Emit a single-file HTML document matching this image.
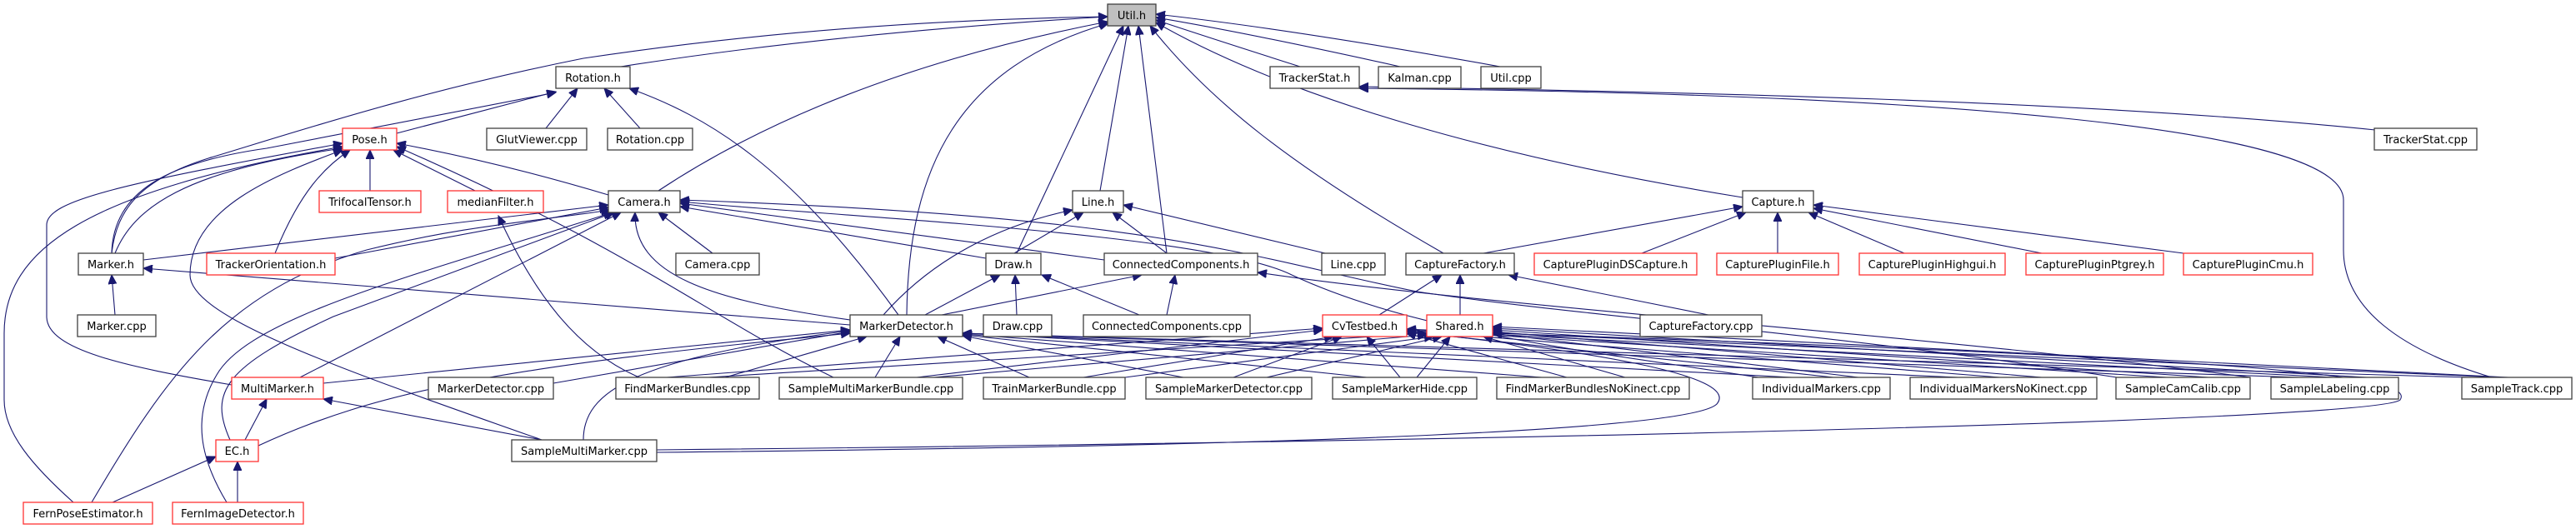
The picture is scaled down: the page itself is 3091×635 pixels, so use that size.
<!DOCTYPE html>
<html><head><meta charset="utf-8"><style>
html,body{margin:0;padding:0;background:#fff;}
svg{display:block;}
text{font-family:"DejaVu Sans","Liberation Sans",sans-serif;font-size:13px;fill:#000;text-anchor:middle;}
.e{fill:none;stroke:#191970;stroke-width:1.1;marker-end:url(#a);}
.n{fill:#fff;stroke:#404040;stroke-width:1.3;}
.r{fill:#fff;stroke:#ff3333;stroke-width:1.3;}
.g{fill:#bfbfbf;stroke:#404040;stroke-width:1.3;}
</style></head><body>
<svg width="3091" height="635" viewBox="0 0 3091 635" xmlns="http://www.w3.org/2000/svg">
<defs><marker id="a" markerUnits="userSpaceOnUse" markerWidth="12" markerHeight="10" refX="11" refY="5" orient="auto"><path d="M0,0 L11,5 L0,10 z" fill="#191970" stroke="#191970"/></marker></defs>
<g>
<!-- Util -->
<path class="e" d="M745,80 Q1000,40 1329,20"/>
<path class="e" d="M1560,80 Q1450,45 1387,24"/>
<path class="e" d="M1680,80 Q1500,40 1387,21"/>
<path class="e" d="M1800,80 Q1550,35 1387,17"/>
<path class="e" d="M790,229 Q1000,90 1329,26"/>
<path class="e" d="M1088,378 C1090,200 1150,80 1330,28"/>
<path class="e" d="M1220,304 L1348,31"/>
<path class="e" d="M1320,229 L1354,31"/>
<path class="e" d="M1400,304 L1366,31"/>
<path class="e" d="M1732,304 C1550,200 1450,120 1380,31"/>
<path class="e" d="M2091,237 C1800,190 1550,120 1387,27"/>
<path class="e" d="M134,304 C140,250 170,215 250,190 C350,160 500,110 700,70 Q1000,25 1329,20"/>
<!-- Rotation -->
<path class="e" d="M476,160 L667,110"/>
<path class="e" d="M655,154 L693,106"/>
<path class="e" d="M768,154 L725,106"/>
<path class="e" d="M1078,378 C950,200 850,140 755,106"/>
<path class="e" d="M134,304 C136,230 200,195 320,178 L667,111"/>
<!-- Pose -->
<path class="e" d="M444,229 L444,180"/>
<path class="e" d="M570,229 L472,180"/>
<path class="e" d="M730,234 Q600,195 476,172"/>
<path class="e" d="M330,304 C360,230 390,200 420,180"/>
<path class="e" d="M138,304 C160,250 220,205 411,178"/>
<path class="e" d="M278,462 C150,440 56,420 56,380 L56,270 C56,240 150,220 411,172"/>
<path class="e" d="M88,603 C40,560 5,520 5,480 L5,400 C5,300 100,230 411,176"/>
<path class="e" d="M650,528 C400,440 228,380 228,330 C228,250 330,210 411,180"/>
<path class="e" d="M1000,453 C850,380 760,300 476,176"/>
<!-- Camera -->
<path class="e" d="M172,312 L730,246"/>
<path class="e" d="M402,310 L730,249"/>
<path class="e" d="M855,304 L790,255"/>
<path class="e" d="M1183,310 L816,248"/>
<path class="e" d="M1020,384 C850,360 760,330 762,255"/>
<path class="e" d="M360,453 L745,255"/>
<path class="e" d="M276,528 C250,470 270,440 400,380 L737,255"/>
<path class="e" d="M110,603 C200,450 270,350 440,300 C560,270 650,265 732,252"/>
<path class="e" d="M272,603 C240,550 230,500 260,450 C300,380 500,330 735,255"/>
<path class="e" d="M1325,312 L816,244"/>
<path class="e" d="M2110,453 C1900,420 1700,400 1550,330 C1450,280 1000,260 816,242"/>
<path class="e" d="M2540,453 C2200,400 1900,380 1700,350 C1500,310 1400,260 816,240"/>
<!-- MarkerDetector -->
<path class="e" d="M1020,390 L172,322"/>
<path class="e" d="M1060,378 C1120,310 1200,270 1287,252"/>
<path class="e" d="M1110,378 L1200,330"/>
<path class="e" d="M1130,378 L1370,330"/>
<path class="e" d="M388,460 L1020,396"/>
<path class="e" d="M664,460 L1020,398"/>
<path class="e" d="M870,453 L1040,404"/>
<path class="e" d="M1050,453 L1080,404"/>
<path class="e" d="M1235,453 L1125,404"/>
<path class="e" d="M1420,453 L1155,403"/>
<path class="e" d="M1640,453 L1155,402"/>
<path class="e" d="M1850,453 L1155,401"/>
<path class="e" d="M2150,453 L1155,400"/>
<path class="e" d="M2350,453 L1155,400"/>
<path class="e" d="M2760,453 L1155,400"/>
<path class="e" d="M2960,453 L1155,400"/>
<path class="e" d="M310,535 C450,470 600,440 1020,400"/>
<path class="e" d="M700,528 C700,470 760,430 1020,397"/>
<!-- CaptureFactory -->
<path class="e" d="M1655,378 L1730,330"/>
<path class="e" d="M1752,378 L1752,330"/>
<path class="e" d="M2050,378 L1810,330"/>
<!-- CvTestbed -->
<path class="e" d="M800,453 L1587,394"/>
<path class="e" d="M1100,453 L1587,396"/>
<path class="e" d="M1300,453 L1600,404"/>
<path class="e" d="M1480,453 L1610,404"/>
<path class="e" d="M1680,453 L1640,404"/>
<path class="e" d="M1880,453 L1688,400"/>
<path class="e" d="M2200,453 L1688,398"/>
<path class="e" d="M2400,453 L1688,397"/>
<path class="e" d="M2600,453 L1688,396"/>
<path class="e" d="M2800,453 L1688,396"/>
<path class="e" d="M3000,453 L1688,395"/>
<!-- Shared -->
<path class="e" d="M850,453 L1712,400"/>
<path class="e" d="M1120,453 L1712,402"/>
<path class="e" d="M1350,453 L1720,404"/>
<path class="e" d="M1520,453 L1730,404"/>
<path class="e" d="M1700,453 L1740,404"/>
<path class="e" d="M1950,453 L1780,404"/>
<path class="e" d="M2230,453 L1791,400"/>
<path class="e" d="M2450,453 L1791,398"/>
<path class="e" d="M2650,453 L1791,396"/>
<path class="e" d="M2840,453 L1791,394"/>
<path class="e" d="M3010,453 L1791,392"/>
<path class="e" d="M788,543 C1600,535 2030,515 2060,485 C2090,450 1900,420 1688,398"/>
<path class="e" d="M788,540 C1800,530 2850,505 2880,480 C2900,450 2700,430 1791,400"/>
<!-- Capture -->
<path class="e" d="M1780,304 L2091,248"/>
<path class="e" d="M1970,304 L2095,255"/>
<path class="e" d="M2133,304 L2133,255"/>
<path class="e" d="M2285,304 L2170,255"/>
<path class="e" d="M2450,304 L2176,250"/>
<path class="e" d="M2620,304 L2176,246"/>
<!-- TrackerStat -->
<path class="e" d="M2850,156 C2500,120 2000,110 1631,104"/>
<path class="e" d="M2990,453 C2880,420 2812,370 2812,300 L2812,240 C2812,150 2300,112 1631,106"/>
<!-- Line / Draw / CC -->
<path class="e" d="M1590,304 Q1450,270 1348,246"/>
<path class="e" d="M1217,304 L1300,255"/>
<path class="e" d="M1400,304 L1335,255"/>
<path class="e" d="M1220,378 L1218,330"/>
<path class="e" d="M1367,378 L1250,330"/>
<path class="e" d="M1400,378 L1410,330"/>
<path class="e" d="M2700,453 C2300,400 1800,370 1509,327"/>
<path class="e" d="M767,453 C690,420 640,350 598,259"/>
<path class="e" d="M294,528 L320,479"/>
<path class="e" d="M650,528 L388,479"/>
<path class="e" d="M135,603 L259,548"/>
<path class="e" d="M285,603 L285,554"/>
<path class="e" d="M138,378 L134,330"/>
</g>
<g>
<rect class="g" x="1329" y="5" width="58" height="26"/><text x="1358" y="23">Util.h</text>
<rect class="n" x="667" y="80" width="89" height="26"/><text x="711.5" y="98">Rotation.h</text>
<rect class="n" x="1524" y="80" width="107" height="26"/><text x="1577.5" y="98">TrackerStat.h</text>
<rect class="n" x="1654" y="80" width="99" height="26"/><text x="1703.5" y="98">Kalman.cpp</text>
<rect class="n" x="1777" y="80" width="72" height="26"/><text x="1813" y="98">Util.cpp</text>
<rect class="r" x="411" y="154" width="65" height="26"/><text x="443.5" y="172">Pose.h</text>
<rect class="n" x="584" y="154" width="120" height="26"/><text x="644" y="172">GlutViewer.cpp</text>
<rect class="n" x="729" y="154" width="102" height="26"/><text x="780" y="172">Rotation.cpp</text>
<rect class="n" x="2849" y="154" width="123" height="26"/><text x="2910.5" y="172">TrackerStat.cpp</text>
<rect class="r" x="383" y="229" width="122" height="26"/><text x="444" y="247">TrifocalTensor.h</text>
<rect class="r" x="537" y="229" width="115" height="26"/><text x="594.5" y="247">medianFilter.h</text>
<rect class="n" x="730" y="229" width="86" height="26"/><text x="773" y="247">Camera.h</text>
<rect class="n" x="1287" y="229" width="61" height="26"/><text x="1317.5" y="247">Line.h</text>
<rect class="n" x="2091" y="229" width="85" height="26"/><text x="2133.5" y="247">Capture.h</text>
<rect class="n" x="94" y="304" width="78" height="26"/><text x="133" y="322">Marker.h</text>
<rect class="r" x="248" y="304" width="154" height="26"/><text x="325" y="322">TrackerOrientation.h</text>
<rect class="n" x="811" y="304" width="100" height="26"/><text x="861" y="322">Camera.cpp</text>
<rect class="n" x="1183" y="304" width="66" height="26"/><text x="1216" y="322">Draw.h</text>
<rect class="n" x="1325" y="304" width="184" height="26"/><text x="1417" y="322">ConnectedComponents.h</text>
<rect class="n" x="1586" y="304" width="76" height="26"/><text x="1624" y="322">Line.cpp</text>
<rect class="n" x="1687" y="304" width="130" height="26"/><text x="1752" y="322">CaptureFactory.h</text>
<rect class="r" x="1841" y="304" width="195" height="26"/><text x="1938.5" y="322">CapturePluginDSCapture.h</text>
<rect class="r" x="2060" y="304" width="146" height="26"/><text x="2133" y="322">CapturePluginFile.h</text>
<rect class="r" x="2231" y="304" width="175" height="26"/><text x="2318.5" y="322">CapturePluginHighgui.h</text>
<rect class="r" x="2431" y="304" width="165" height="26"/><text x="2513.5" y="322">CapturePluginPtgrey.h</text>
<rect class="r" x="2620" y="304" width="155" height="26"/><text x="2697.5" y="322">CapturePluginCmu.h</text>
<rect class="n" x="93" y="378" width="94" height="26"/><text x="140" y="396">Marker.cpp</text>
<rect class="n" x="1020" y="378" width="135" height="26"/><text x="1087.5" y="396">MarkerDetector.h</text>
<rect class="n" x="1180" y="378" width="82" height="26"/><text x="1221" y="396">Draw.cpp</text>
<rect class="n" x="1300" y="378" width="200" height="26"/><text x="1400" y="396">ConnectedComponents.cpp</text>
<rect class="r" x="1587" y="378" width="101" height="26"/><text x="1637.5" y="396">CvTestbed.h</text>
<rect class="r" x="1712" y="378" width="79" height="26"/><text x="1751.5" y="396">Shared.h</text>
<rect class="n" x="1968" y="378" width="146" height="26"/><text x="2041" y="396">CaptureFactory.cpp</text>
<rect class="r" x="278" y="453" width="110" height="26"/><text x="333" y="471">MultiMarker.h</text>
<rect class="n" x="514" y="453" width="150" height="26"/><text x="589" y="471">MarkerDetector.cpp</text>
<rect class="n" x="739" y="453" width="172" height="26"/><text x="825" y="471">FindMarkerBundles.cpp</text>
<rect class="n" x="935" y="453" width="220" height="26"/><text x="1045" y="471">SampleMultiMarkerBundle.cpp</text>
<rect class="n" x="1180" y="453" width="170" height="26"/><text x="1265" y="471">TrainMarkerBundle.cpp</text>
<rect class="n" x="1375" y="453" width="199" height="26"/><text x="1474.5" y="471">SampleMarkerDetector.cpp</text>
<rect class="n" x="1599" y="453" width="173" height="26"/><text x="1685.5" y="471">SampleMarkerHide.cpp</text>
<rect class="n" x="1796" y="453" width="231" height="26"/><text x="1911.5" y="471">FindMarkerBundlesNoKinect.cpp</text>
<rect class="n" x="2103" y="453" width="165" height="26"/><text x="2185.5" y="471">IndividualMarkers.cpp</text>
<rect class="n" x="2292" y="453" width="224" height="26"/><text x="2404" y="471">IndividualMarkersNoKinect.cpp</text>
<rect class="n" x="2539" y="453" width="161" height="26"/><text x="2619.5" y="471">SampleCamCalib.cpp</text>
<rect class="n" x="2725" y="453" width="153" height="26"/><text x="2801.5" y="471">SampleLabeling.cpp</text>
<rect class="n" x="2954" y="453" width="132" height="26"/><text x="3020" y="471">SampleTrack.cpp</text>
<rect class="r" x="259" y="528" width="51" height="26"/><text x="284.5" y="546">EC.h</text>
<rect class="n" x="614" y="528" width="174" height="26"/><text x="701" y="546">SampleMultiMarker.cpp</text>
<rect class="r" x="28" y="603" width="155" height="26"/><text x="105.5" y="621">FernPoseEstimator.h</text>
<rect class="r" x="207" y="603" width="157" height="26"/><text x="285.5" y="621">FernImageDetector.h</text>
</g>
</svg>
</body></html>
